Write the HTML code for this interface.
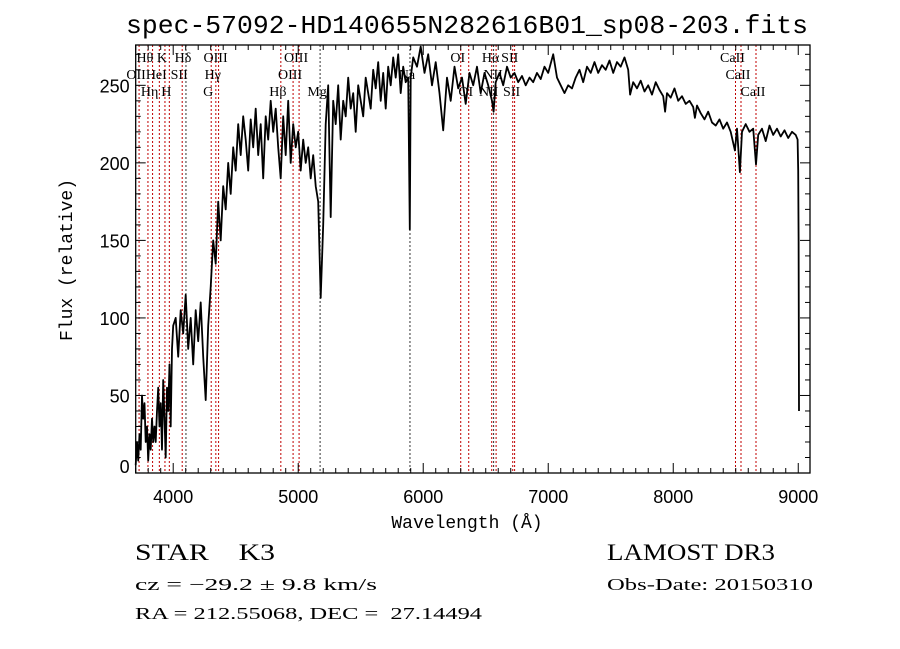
<!DOCTYPE html>
<html><head><meta charset="utf-8"><style>
html,body{margin:0;padding:0;background:#fff;width:900px;height:649px;overflow:hidden}
svg{display:block}
text{white-space:pre}
</style></head><body>
<svg id="chart" width="900" height="649" viewBox="0 0 900 649" xmlns="http://www.w3.org/2000/svg">
<rect x="0" y="0" width="900" height="649" fill="#fff"/>
<text x="467" y="33" text-anchor="middle" font-family="Liberation Mono, monospace" font-size="26" textLength="682" lengthAdjust="spacingAndGlyphs">spec-57092-HD140655N282616B01_sp08-203.fits</text>
<g id="lines"></g>
<g id="labels" font-family="Liberation Serif, serif" font-size="14"></g>
<g id="spec"></g>
<g id="axes"></g>
<text x="467" y="528" text-anchor="middle" font-family="Liberation Mono, monospace" font-size="18">Wavelength (Å)</text>
<text transform="translate(72,260) rotate(-90)" text-anchor="middle" font-family="Liberation Mono, monospace" font-size="18">Flux (relative)</text>
<g font-family="Liberation Serif, serif">
<text x="135" y="560" font-size="23" textLength="140" lengthAdjust="spacingAndGlyphs">STAR    K3</text>
<text x="135" y="590" font-size="17" textLength="242" lengthAdjust="spacingAndGlyphs">cz = −29.2 ± 9.8 km/s</text>
<text x="135" y="619" font-size="17" textLength="347" lengthAdjust="spacingAndGlyphs">RA = 212.55068, DEC =  27.14494</text>
<text x="607" y="560" font-size="23" textLength="168" lengthAdjust="spacingAndGlyphs">LAMOST DR3</text>
<text x="607" y="590" font-size="17" textLength="206" lengthAdjust="spacingAndGlyphs">Obs-Date: 20150310</text>
</g>
</svg>
<script>
const wave = [3700,3710,3720,3730,3740,3750,3760,3770,3780,3790,3800,3810,3820,3830,3840,3850,3860,3870,3880,3890,3900,3910,3920,3930,3940,3950,3960,3970,3980,3990,4000,
4020,4040,4060,4080,4100,4120,4140,4160,4180,4200,4220,4240,4260,4280,4300,4320,4340,4360,4380,4400,
4420,4440,4460,4480,4500,4520,4540,4560,4580,4600,4620,4640,4660,4680,4700,4720,4740,4760,4780,4800,4820,4840,4860,4880,4900,4920,4940,4960,4980,5000,5020,5040,5060,5080,5100,5120,5140,5160,5180,5200,5220,5240,5260,5280,5300,5320,5340,5360,5380,5400,5420,5440,5460,5480,5500,5520,5540,5560,5580,5600,5620,5640,5660,5680,5700,5720,5740,5760,5780,5800,5820,5840,5860,5880,5893,5900,
5920,5950,5980,6010,6040,6070,6100,6130,6160,6190,6220,6250,6280,6310,6340,6370,6400,6430,6460,6490,6520,6550,6563,6580,6610,6640,6670,6700,6730,6760,6790,6820,6850,6880,6910,6940,6970,7000,7040,7070,7100,7130,7160,7190,7220,7250,7280,7310,7340,7370,7400,7430,7460,7490,7520,7550,7580,7610,7640,7655,7680,7710,7740,7770,7800,7830,7860,7890,7920,7935,7950,7980,8010,8040,8070,8100,8130,8160,8173,8190,8220,8250,8280,8310,8340,8370,8400,8430,8460,8493,8510,8533,8550,8580,8610,8640,8662,8680,8710,8740,8770,8800,8830,8860,8890,8920,8950,8980,8995,9000,9003,9006];
const flux = [5,20,8,25,15,50,35,45,20,30,8,25,15,35,20,30,20,40,55,30,45,15,60,35,10,55,40,70,30,80,95,
100,75,105,90,115,80,100,70,105,85,110,75,47,95,120,150,135,175,150,185,
170,200,180,210,195,225,205,230,215,195,228,210,235,205,225,190,230,215,240,220,235,210,190,230,205,240,200,225,210,220,195,215,200,210,190,205,185,175,113,160,225,250,165,240,225,250,215,240,230,255,235,245,220,250,240,230,255,245,235,260,248,265,240,258,235,262,250,268,255,270,245,262,252,255,157,255,
268,262,275,258,270,250,265,245,221,255,240,262,248,255,238,258,250,262,245,258,250,240,233,252,258,250,262,255,258,252,256,250,255,252,258,254,262,258,270,255,250,245,250,248,255,260,252,262,258,265,258,263,260,266,258,265,262,268,260,244,252,248,253,246,250,244,252,247,243,233,245,242,248,240,243,238,240,236,229,237,232,228,233,226,224,228,222,226,220,208,222,194,220,225,220,222,199,218,222,214,224,218,222,217,221,216,220,218,215,195,150,40];
const lineWaves = [3727,3798,3835,3889,3934,3969,4072,4102,4304,4341,4363,4861,4959,5007,5175,5894,6300,6364,6548,6563,6583,6716,6731,8498,8542,8662];
const lineNames = ["OII","Hθ","Hη","HeI","K","H","SII","Hδ","G","Hγ","OIII","Hβ","OIII","OIII","Mg","Na","OI","OI","NII","Hα","NII","SII","SII","CaII","CaII","CaII"];
const lineRows = [1,0,2,1,0,2,1,0,2,1,0,2,1,0,2,1,0,2,2,0,1,0,2,0,1,2];
const xTicks = [4000,5000,6000,7000,8000,9000];
const yTicks = [0,50,100,150,200,250];

const L=135.7,R=810,T=45,B=473, W0=3700,W1=9094, F0=0,F1=276;
const xs = w => L+(w-W0)/(W1-W0)*(R-L);
const ys = f => B-(f-F0)/(F1-F0)*(B-T);
const NS="http://www.w3.org/2000/svg";
function mk(t,a,p){const e=document.createElementNS(NS,t);for(const k in a)e.setAttribute(k,a[k]);p.appendChild(e);return e;}

const gl=document.getElementById('lines');
const blackLines=[4102,5175,5894,6563];
lineWaves.forEach((w,i)=>{
  const l=mk('line',{x1:xs(w),x2:xs(w),y1:T,y2:B,stroke:blackLines.includes(w)?'#333':'#c00000','stroke-width':1,'stroke-dasharray':'2,2'},gl);
  
  
});
const glab=document.getElementById('labels');
const rowY=[62,79,96];
lineWaves.forEach((w,i)=>{
  const t=mk('text',{x:xs(w)-3,y:rowY[lineRows[i]],'text-anchor':'middle'},glab);
  t.textContent=lineNames[i];
  
  
});

const gs=document.getElementById('spec');
let d='';
wave.forEach((w,i)=>{d+=(i?'L':'M')+xs(w).toFixed(1)+','+ys(flux[i]).toFixed(1);});
const sp=mk('path',{d:d,fill:'none',stroke:'#000','stroke-width':1.8,'stroke-linejoin':'round'},gs);



const ga=document.getElementById('axes');
const fr=mk('rect',{x:L,y:T,width:R-L,height:B-T,fill:'none',stroke:'#000','stroke-width':1.3},ga);


for(let w=3700;w<=9094;w+=100){
  const maj=(w%1000===0), len=maj?10:5;
  mk('line',{x1:xs(w),x2:xs(w),y1:B,y2:B-len,stroke:'#000','stroke-width':1},ga);
  mk('line',{x1:xs(w),x2:xs(w),y1:T,y2:T+len,stroke:'#000','stroke-width':1},ga);
}
for(let f=0;f<=276;f+=10){
  const maj=(f%50===0), len=maj?10:5;
  mk('line',{x1:L,x2:L+len,y1:ys(f),y2:ys(f),stroke:'#000','stroke-width':1},ga);
  mk('line',{x1:R,x2:R-len,y1:ys(f),y2:ys(f),stroke:'#000','stroke-width':1},ga);
}
xTicks.forEach(v=>{
  const t=mk('text',{x:xs(v),y:B+30,'text-anchor':'middle','font-family':'Liberation Sans, sans-serif','font-size':18},ga);
  t.textContent=v;
  
  
});
yTicks.forEach(v=>{
  const t=mk('text',{x:L-6,y:Math.min(ys(v)+7,B),'text-anchor':'end','font-family':'Liberation Sans, sans-serif','font-size':18},ga);
  t.textContent=v;
  
  
});
</script>
</body></html>
